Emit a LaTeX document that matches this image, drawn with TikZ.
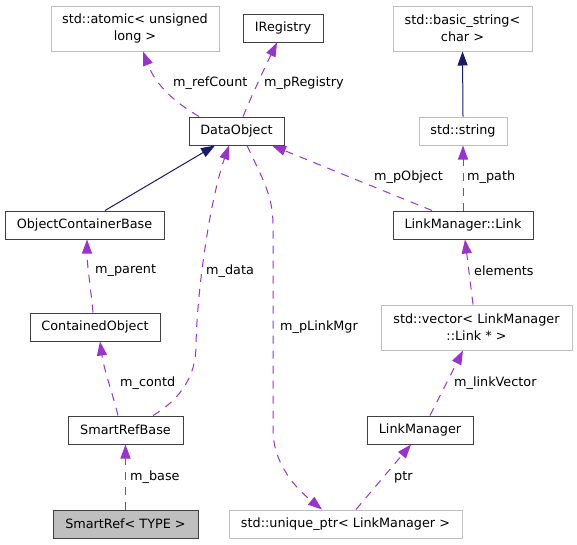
\documentclass[tikz,border=0pt]{standalone}
\usepackage{fontspec}
\setmainfont{DejaVu Sans}
\usetikzlibrary{arrows.meta}
\definecolor{edgepurple}{HTML}{9A32CD}
\definecolor{edgenavy}{HTML}{191970}
\definecolor{darkborder}{HTML}{404040}
\definecolor{lightborder}{HTML}{BFBFBF}
\begin{document}
\begin{tikzpicture}[x=1pt,y=-1pt,
  font=\fontsize{12.8}{17}\selectfont,
  cls/.style={draw=darkborder,line width=1pt,fill=white,inner sep=0pt,minimum height=28pt,align=center},
  ext/.style={draw=lightborder,line width=1pt,fill=white,inner sep=0pt,minimum height=28pt,align=center},
  usage/.style={draw=edgepurple,line width=1pt,dash pattern=on 8pt off 7pt,
    -{Triangle[length=14pt,width=10pt,fill=edgepurple]}},
  inherit/.style={draw=edgenavy,line width=1pt,
    -{Triangle[length=14pt,width=10pt,fill=edgenavy]}},
  lbl/.style={inner sep=0pt,anchor=west}]
\useasboundingbox (0,0) rectangle (577,544);

% nodes
\node[ext,minimum width=168pt,minimum height=45pt] (atomic) at (135,28.5) {std::atomic< unsigned\\long >};
\node[cls,minimum width=80pt] (ireg) at (283,28) {IRegistry};
\node[ext,minimum width=139pt,minimum height=45pt] (bstr) at (462.5,28.5) {std::basic\_string<\\char >};
\node[cls,minimum width=95pt] (dobj) at (236.5,131) {DataObject};
\node[ext,minimum width=88pt] (str) at (463,131) {std::string};
\node[cls,minimum width=159pt] (ocb) at (84.5,225) {ObjectContainerBase};
\node[cls,minimum width=140pt] (link) at (463,225) {LinkManager::Link};
\node[cls,minimum width=130pt] (cobj) at (95,327) {ContainedObject};
\node[ext,minimum width=191pt,minimum height=45pt] (vec) at (476.5,327.5) {std::vector< LinkManager\\::Link * >};
\node[cls,minimum width=115pt] (srb) at (125.5,430) {SmartRefBase};
\node[cls,minimum width=106pt] (lmgr) at (420,430) {LinkManager};
\node[cls,minimum width=145pt,fill=lightborder] (sref) at (125.5,524) {SmartRef< TYPE >};
\node[ext,minimum width=233pt] (uptr) at (345.5,524) {std::unique\_ptr< LinkManager >};

% inheritance
\draw[inherit] (str.north) -- (bstr.south);
\draw[inherit] ([xshift=20.5pt]ocb.north) -- ([xshift=-21.5pt]dobj.south);

% usage
\draw[usage] ([xshift=-37.5pt]dobj.north) .. controls (176,103) and (156,86) .. ([xshift=8pt]atomic.south);
\draw[usage] ([xshift=6.5pt]dobj.north) .. controls (252,95) and (266,65) .. ([xshift=-6pt]ireg.south);
\draw[usage] ([xshift=-31pt]link.north) -- ([xshift=35.5pt]dobj.south);
\draw[usage] (link.north) -- (str.south);
\draw[usage] ([xshift=-2pt]cobj.north) .. controls (91,290) and (87,265) .. ([xshift=2.5pt]ocb.south);
\draw[usage] ([xshift=-7.5pt]srb.north) .. controls (113,395) and (104,370) .. ([xshift=5pt]cobj.south);
\draw[usage] ([xshift=27.5pt]srb.north) .. controls (182,398) and (196,375) .. (196,345)
  .. controls (197,290) and (210,200) .. ([xshift=-7.5pt]dobj.south);
\draw[usage] ([xshift=10.5pt]dobj.south) .. controls (262,178) and (273,195) .. (273,225)
  -- (273,430) .. controls (273,465) and (298,490) .. ([xshift=-23.5pt]uptr.north);
\draw[usage] ([xshift=-3.5pt]vec.north) -- ([xshift=2pt]link.south);
\draw[usage] ([xshift=10pt]lmgr.north) -- ([xshift=-13.5pt]vec.south);
\draw[usage] ([xshift=10.5pt]uptr.north) -- ([xshift=-9pt]lmgr.south);
\draw[usage] (sref.north) -- (srb.south);

% labels
\node[lbl] (l1) at (173,83) {m\_refCount};
\node[lbl] (l2) at (264,83) {m\_pRegistry};
\node[lbl] (l3) at (374,177) {m\_pObject};
\node[lbl] (l4) at (467,177) {m\_path};
\node[lbl] (l5) at (95,271) {m\_parent};
\node[lbl] (l6) at (206,271) {m\_data};
\node[lbl] (l7) at (474,271) {elements};
\node[lbl] (l8) at (280,327) {m\_pLinkMgr};
\node[lbl] (l9) at (120,383) {m\_contd};
\node[lbl] (l10) at (454,383) {m\_linkVector};
\node[lbl] (l11) at (130,477) {m\_base};
\node[lbl] (l12) at (394,477) {ptr};
\end{tikzpicture}
\end{document}
